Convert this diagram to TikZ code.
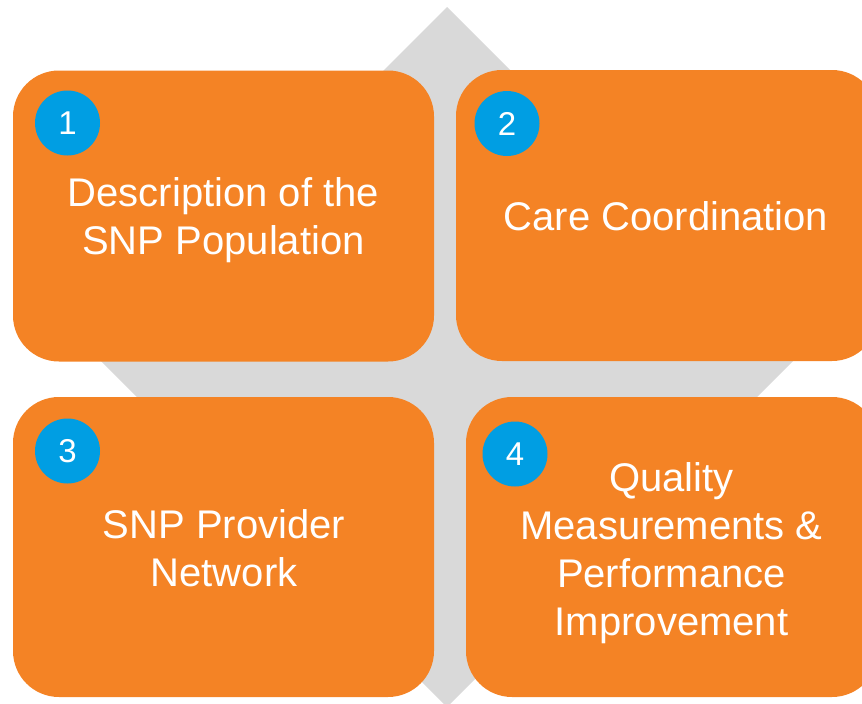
\documentclass[tikz,border=0pt]{standalone}
\usepackage{fontspec}
\setmainfont{Liberation Sans}
\definecolor{snporange}{RGB}{244,131,37}
\definecolor{snpblue}{RGB}{0,158,227}
\definecolor{snpgray}{RGB}{217,217,217}
\tikzset{
  panel/.style={fill=snporange, rounded corners=46pt, inner sep=0pt},
  badge/.style={circle, fill=snpblue, minimum size=65pt, inner sep=0pt,
    text=white, font=\fontsize{33}{40}\selectfont},
  caption/.style={text=white, align=center, inner sep=0pt, anchor=north,
    font=\fontsize{40}{48}\selectfont}
}
\begin{document}
\begin{tikzpicture}[x=1pt,y=-1pt]
    \useasboundingbox (0,0) rectangle (862,704);
    \clip (0,0) rectangle (862,704);

    % backdrop diamond
    \fill[snpgray] (447,7) -- (797,357) -- (447,707) -- (97,357) -- cycle;

    % panels
    \node[panel, minimum width=421pt, minimum height=291pt] (b1) at (223.5,216) {};
    \node[panel, minimum width=422pt, minimum height=291pt] (b2) at (667,215.5) {};
    \node[panel, minimum width=421pt, minimum height=300pt] (b3) at (223.5,547) {};
    \node[panel, minimum width=412pt, minimum height=300pt] (b4) at (672,547) {};

    % numbers
    \node[badge] (n1) at (67.5,123) {1};
    \node[badge] (n2) at (507,123.5) {2};
    \node[badge] (n3) at (67.5,451) {3};
    \node[badge] (n4) at (515,454) {4};

    % texts
    \node[caption] (t1) at (223.5,177.5) {Description of the\\SNP Population};
    \node[caption] (t2) at (666,201.5) {Care Coordination};
    \node[caption] (t3) at (224,509.5) {SNP Provider\\Network};
    \node[caption] (t4) at (671.5,462.5) {Quality\\Measurements \&\\Performance\\Improvement};
\end{tikzpicture}
\end{document}
